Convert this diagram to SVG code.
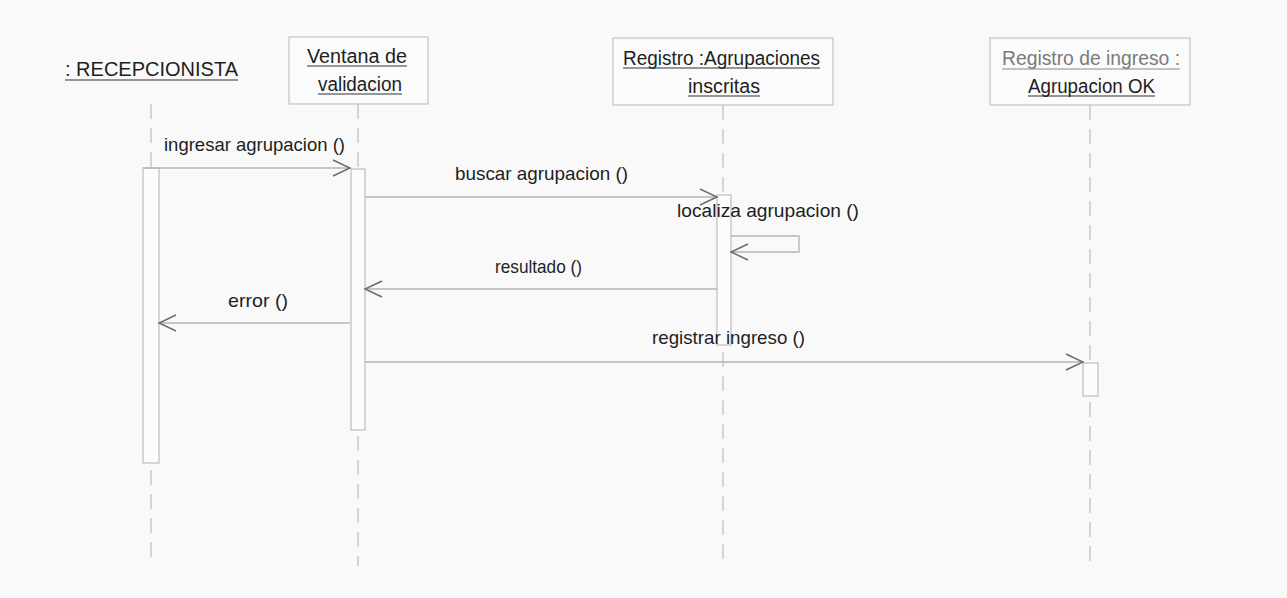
<svg xmlns="http://www.w3.org/2000/svg" width="1287" height="598" viewBox="0 0 1287 598">
  <style>
    .bg { fill: #f9f9f9; }
    .head { fill: #fbfbfb; stroke: #c4c4c4; stroke-width: 1.2; }
    .life { stroke: #c0c0c0; stroke-width: 1.3; stroke-dasharray: 15 9; fill: none; }
    .act { fill: #fcfcfc; stroke: #bdbdbd; stroke-width: 1.2; }
    .msg { stroke: #b4b4b4; stroke-width: 1.3; fill: none; }
    .t { font-family: "Liberation Sans", Arial, sans-serif; fill: #1e1e1e; }
    .hd { font-size: 20px; }
    .lb { font-size: 19px; }
    .ul { stroke: #333; stroke-width: 1.2; }
    .gray { fill: #7a7a7a; }
    .ulg { stroke: #8a8a8a; stroke-width: 1.2; }
  </style>
  <defs>
    <marker id="open" markerUnits="userSpaceOnUse" markerWidth="22" markerHeight="20" refX="18" refY="9" orient="auto">
      <path d="M1,1 L18,9 L1,17" fill="none" stroke="#6a6a6a" stroke-width="1.4"/>
    </marker>
  </defs>

  <rect class="bg" x="0" y="0" width="1287" height="598"/>

  <!-- actor: receptionist -->
  <g id="recepcionista">
    <text class="t hd" x="65" y="76" textLength="173" lengthAdjust="spacingAndGlyphs">: RECEPCIONISTA</text>
    <line class="ul" x1="65" y1="80" x2="238" y2="80"/>
    <line class="life" x1="151" y1="104" x2="151" y2="168"/>
    <rect class="act" x="143" y="168" width="16" height="295"/>
    <line class="life" x1="151" y1="470" x2="151" y2="566"/>
  </g>

  <!-- object: validation window -->
  <g id="ventana">
    <rect class="head" x="289" y="37" width="139" height="67"/>
    <text class="t hd" x="307" y="63" textLength="100" lengthAdjust="spacingAndGlyphs">Ventana de</text>
    <line class="ul" x1="307" y1="66" x2="407" y2="66"/>
    <text class="t hd" x="318" y="91" textLength="84" lengthAdjust="spacingAndGlyphs">validacion</text>
    <line class="ul" x1="318" y1="94" x2="402" y2="94"/>
    <line class="life" x1="358" y1="104" x2="358" y2="169"/>
    <rect class="act" x="351" y="169" width="14" height="261"/>
    <line class="life" x1="358" y1="436" x2="358" y2="566"/>
  </g>

  <!-- object: registered groups -->
  <g id="registro-agrupaciones">
    <rect class="head" x="613" y="38" width="220" height="67"/>
    <text class="t hd" x="623" y="65" textLength="197" lengthAdjust="spacingAndGlyphs">Registro :Agrupaciones</text>
    <line class="ul" x1="623" y1="68" x2="820" y2="68"/>
    <text class="t hd" x="688" y="93" textLength="72" lengthAdjust="spacingAndGlyphs">inscritas</text>
    <line class="ul" x1="688" y1="96" x2="760" y2="96"/>
    <line class="life" x1="723" y1="105" x2="723" y2="195"/>
    <rect class="act" x="717" y="195" width="14" height="150"/>
    <line class="life" x1="723" y1="352" x2="723" y2="566"/>
  </g>

  <!-- object: entry record -->
  <g id="registro-ingreso">
    <rect class="head" x="990" y="38" width="200" height="67"/>
    <text class="t hd gray" x="1002" y="65" textLength="178" lengthAdjust="spacingAndGlyphs">Registro de ingreso :</text>
    <line class="ulg" x1="1002" y1="69" x2="1180" y2="69"/>
    <text class="t hd" x="1028" y="93" textLength="127" lengthAdjust="spacingAndGlyphs">Agrupacion OK</text>
    <line class="ul" x1="1028" y1="96" x2="1155" y2="96"/>
    <line class="life" x1="1090" y1="105" x2="1090" y2="363"/>
    <rect class="act" x="1083" y="363" width="15" height="33"/>
    <line class="life" x1="1090" y1="402" x2="1090" y2="568"/>
  </g>

  <!-- messages -->
  <g id="connectors">
    <line class="msg" x1="143" y1="168" x2="350" y2="168" marker-end="url(#open)"/>
    <text class="t lb" x="164" y="151" textLength="181" lengthAdjust="spacingAndGlyphs">ingresar agrupacion ()</text>

    <line class="msg" x1="365" y1="197" x2="717" y2="197" marker-end="url(#open)"/>
    <text class="t lb" x="455" y="180" textLength="173" lengthAdjust="spacingAndGlyphs">buscar agrupacion ()</text>

    <polyline class="msg" points="731,236 799,236 799,252 731,252" marker-end="url(#open)"/>
    <text class="t lb" x="677" y="217" textLength="182" lengthAdjust="spacingAndGlyphs">localiza agrupacion ()</text>

    <line class="msg" x1="717" y1="289" x2="365" y2="289" marker-end="url(#open)"/>
    <text class="t lb" x="495" y="273" textLength="87" lengthAdjust="spacingAndGlyphs">resultado ()</text>

    <line class="msg" x1="350" y1="323" x2="159" y2="323" marker-end="url(#open)"/>
    <text class="t lb" x="228" y="307" textLength="60" lengthAdjust="spacingAndGlyphs">error ()</text>

    <line class="msg" x1="365" y1="362" x2="1083" y2="362" marker-end="url(#open)"/>
    <text class="t lb" x="652" y="344" textLength="153" lengthAdjust="spacingAndGlyphs">registrar ingreso ()</text>
  </g>
</svg>
